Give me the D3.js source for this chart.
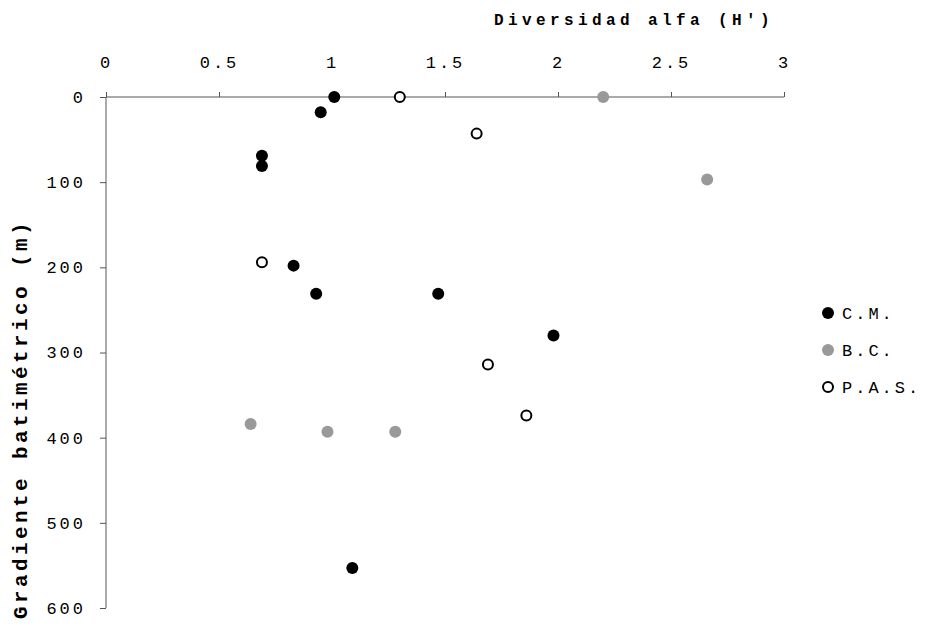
<!DOCTYPE html>
<html>
<head>
<meta charset="utf-8">
<script src="https://cdn.jsdelivr.net/npm/d3@7"></script>
<style>
  html, body { margin: 0; padding: 0; background: #fff; }
  svg text { font-family: "Liberation Mono", "Courier New", monospace; fill: #000; }
</style>
</head>
<body>
<svg id="chart" width="927" height="626"></svg>
<script>
// Alpha diversity (Shannon H') against depth for three localities
const seriesNames = ["C.M.", "B.C.", "P.A.S."];
const cmH     = [1.01, 0.95, 0.69, 0.69, 0.83, 0.93, 1.47, 1.98, 1.09];
const cmDepth = [0, 18, 69, 81, 198, 231, 231, 280, 553];
const bcH     = [2.20, 2.66, 0.64, 0.98, 1.28];
const bcDepth = [0, 97, 384, 393, 393];
const pasH     = [1.30, 1.64, 0.69, 1.69, 1.86];
const pasDepth = [0, 43, 194, 314, 374];
const xTicks = [0, 0.5, 1, 1.5, 2, 2.5, 3];
const yTicks = [0, 100, 200, 300, 400, 500, 600];
const xTitle = "Diversidad alfa (H')";
const yTitle = "Gradiente batimétrico (m)";

const svg = d3.select("#chart");
const x = d3.scaleLinear().domain([0, 3]).range([106, 784]);
const y = d3.scaleLinear().domain([0, 600]).range([97, 608]);

const axisColor = "#555";
const labelStyle = sel => sel
  .style("font-size", "17px").style("letter-spacing", "3px")
  .attr("fill", "#222");

// top x axis (ticks pointing up)
const gx = svg.append("g").attr("transform", `translate(0,${y(0)})`)
  .call(d3.axisTop(x).tickValues(xTicks).tickSize(5).tickPadding(24)
    .tickFormat(d => String(d)));
gx.select(".domain").attr("stroke", axisColor).attr("d", `M${x(0)},0H${x(3)}`);
gx.selectAll(".tick line").attr("stroke", axisColor);
gx.selectAll(".tick text").call(labelStyle);

// left y axis (depth increases downward)
const gy = svg.append("g").attr("transform", `translate(${x(0)},0)`)
  .call(d3.axisLeft(y).tickValues(yTicks).tickSize(6).tickPadding(14)
    .tickFormat(d => String(d)));
gy.select(".domain").attr("stroke", axisColor).attr("d", `M0,${y(0)}V${y(600)}`);
gy.selectAll(".tick line").attr("stroke", axisColor);
gy.selectAll(".tick text").call(labelStyle);

// axis titles
svg.append("text")
  .attr("x", 634).attr("y", 25)
  .attr("text-anchor", "middle")
  .style("font-size", "16px").style("font-weight", "bold")
  .style("letter-spacing", "4.4px")
  .text(xTitle);

svg.append("text")
  .attr("transform", `translate(27,${419}) rotate(-90)`)
  .attr("text-anchor", "middle")
  .style("font-size", "21px").style("font-weight", "bold")
  .style("letter-spacing", "3.4px")
  .text(yTitle);

// marker styles per series
const styles = {
  "C.M.":   { fill: "#000", stroke: "none", r: 6, sw: 0 },
  "B.C.":   { fill: "#999", stroke: "none", r: 6, sw: 0 },
  "P.A.S.": { fill: "#fff", stroke: "#000", r: 5, sw: 2 }
};

const series = [
  { name: "C.M.",   h: cmH,  d: cmDepth },
  { name: "B.C.",   h: bcH,  d: bcDepth },
  { name: "P.A.S.", h: pasH, d: pasDepth }
];

series.forEach(s => {
  const st = styles[s.name];
  svg.append("g").selectAll("circle")
    .data(s.h.map((v, i) => ({ v, depth: s.d[i] })))
    .join("circle")
    .attr("cx", p => x(p.v))
    .attr("cy", p => y(p.depth))
    .attr("r", st.r)
    .attr("fill", st.fill)
    .attr("stroke", st.stroke)
    .attr("stroke-width", st.sw);
});

// legend
const legend = svg.append("g").attr("transform", "translate(828,313)");
seriesNames.forEach((name, i) => {
  const st = styles[name];
  const row = legend.append("g").attr("transform", `translate(0,${i * 37})`);
  row.append("circle")
    .attr("r", st.r).attr("fill", st.fill)
    .attr("stroke", st.stroke).attr("stroke-width", st.sw);
  row.append("text")
    .attr("x", 14).attr("dy", "0.35em")
    .call(labelStyle)
    .text(name);
});
</script>
</body>
</html>
